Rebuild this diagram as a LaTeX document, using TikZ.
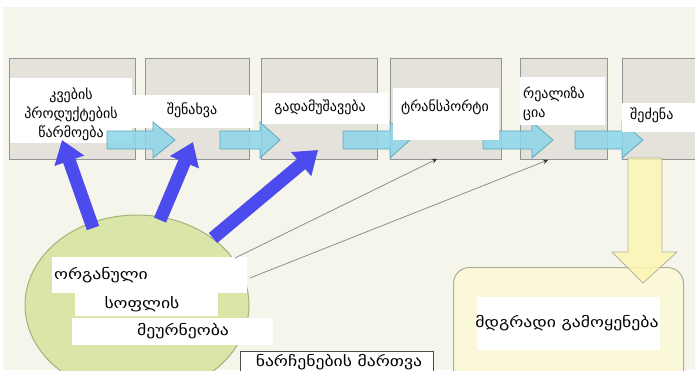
\documentclass[tikz,border=0pt]{standalone}
\usepackage{fontspec}
\setmainfont{DejaVu Sans}
\newfontfamily\widegeo[FakeStretch=1.22]{DejaVu Sans}
\usetikzlibrary{arrows.meta,shapes.geometric}
\definecolor{bg}{HTML}{F6F5EC}
\definecolor{boxfill}{HTML}{E5E2DB}
\definecolor{boxline}{HTML}{8F9596}
\definecolor{cyanfill}{HTML}{8CD6EB}
\definecolor{cyanline}{HTML}{5FA8BE}
\definecolor{blueA}{HTML}{4B4BEE}
\definecolor{ellfill}{HTML}{D9E6A8}
\definecolor{ellline}{HTML}{A3B27A}
\definecolor{yelfill}{HTML}{FBF6B2}
\definecolor{yelline}{HTML}{B5B29A}
\definecolor{recfill}{HTML}{FBF8DA}
\definecolor{recline}{HTML}{ADAB96}
\definecolor{thin}{HTML}{8E8E8E}
\tikzset{
  graybox/.style={draw=boxline, fill=boxfill, line width=1pt, inner sep=0pt, anchor=north west},
  patch/.style={fill=white},
  lbl/.style={font=\fontsize{14}{19}\selectfont, inner sep=0pt, text=black},
  widelbl/.style={font=\widegeo\fontsize{14.5}{19}\selectfont, inner sep=0pt, text=black},
  cyanarr/.style={fill=cyanfill, draw=cyanline, line width=0.8pt, fill opacity=0.85},
  bluearr/.style={draw=blueA, line width=13pt, -{Triangle[width=30pt,length=22pt]}},
  thinarr/.style={draw=thin, line width=0.8pt, -{Stealth[length=5pt,width=5pt,color=black!80]}},
}
\newcommand\cyarrow[3]{\filldraw[cyanarr] (#1,131)--(#2,131)--(#2,122)--(#3,140)--(#2,158)--(#2,149)--(#1,149)--cycle;}
\begin{document}
\begin{tikzpicture}[x=1pt,y=-1pt]
\useasboundingbox (0,0) rectangle (695,370);
\clip (0,0) rectangle (695,370);
\fill[bg] (0,0) rectangle (695,370);
\fill[white] (0,0) rectangle (695,7);
\fill[white] (0,0) rectangle (3,370);
% process boxes
\node[graybox, minimum width=126pt, minimum height=101pt] (b1) at (9,58) {};
\node[graybox, minimum width=104pt, minimum height=101pt] (b2) at (145,58) {};
\node[graybox, minimum width=116pt, minimum height=101pt] (b3) at (261,58) {};
\node[graybox, minimum width=111pt, minimum height=101pt] (b4) at (390,58) {};
\node[graybox, minimum width=87pt, minimum height=101pt] (b5) at (520,58) {};
\node[graybox, minimum width=100pt, minimum height=101pt] (b6) at (622,58) {};
% patches behind arrows
\fill[patch] (10,78) rectangle (132,143);
\fill[patch] (132,95) rectangle (253,128);
% cyan arrows
\cyarrow{107}{153}{175}
\cyarrow{220}{260}{280}
\cyarrow{343}{390}{410}
\cyarrow{483}{532}{553}
\cyarrow{575}{622}{643}
% patches in front
\fill[patch] (262,93) rectangle (388,124);
\fill[patch] (393,88) rectangle (499,140);
\fill[patch] (520,77) rectangle (605,125);
\fill[patch] (622,103) rectangle (695,132);
% labels
\node[lbl, align=center] (t1) at (71,114) {კვების\\პროდუქტების\\წარმოება};
\node[lbl] (t2) at (192,110) {შენახვა};
\node[lbl] (t3) at (320,107) {გადამუშავება};
\node[lbl] (t4) at (445,107) {ტრანსპორტი};
\node[lbl, align=left, anchor=west] (t5) at (523,104) {რეალიზა\\ცია};
\node[lbl, anchor=west] (t6) at (630,115) {შეძენა};
% sustainable use box and yellow arrow
\node[draw=recline, fill=recfill, line width=1pt, minimum width=230pt, minimum height=133pt, anchor=north west, rounded corners=16pt] (r) at (453,267) {};
\fill[patch] (477,297) rectangle (660,350);
\node[widelbl] (tr) at (567,323) {მდგრადი გამოყენება};
\filldraw[fill=yelfill, draw=yelline, line width=0.8pt, fill opacity=0.85]
  (628,158)--(662,158)--(662,252)--(677,252)--(643,283)--(612,252)--(628,252)--cycle;
% waste management box
\node[draw=black!70, fill=white, line width=0.8pt, minimum width=193pt, minimum height=34pt, anchor=north west, inner sep=0pt] (w) at (240,351) {};
\node[widelbl] (tw) at (339,362) {ნარჩენების მართვა};
% ellipse
\node[ellipse, draw=ellline, fill=ellfill, line width=1pt, minimum width=224pt, minimum height=180pt, inner sep=0pt] (e) at (137,305) {};
\fill[patch] (52,257) rectangle (247,293);
\fill[patch] (75,293) rectangle (218,316);
\fill[patch] (72,318) rectangle (273,345);
\node[widelbl, anchor=west] (te1) at (54,275) {ორგანული};
\node[widelbl] (te2) at (142,304) {სოფლის};
\node[widelbl] (te3) at (183,331) {მეურნეობა};
% blue arrows
\coordinate (as1) at (93,228);  \coordinate (at1) at (62,140);
\coordinate (as2) at (160,220); \coordinate (at2) at (193,142);
\coordinate (as3) at (213,238); \coordinate (at3) at (318,150);
\draw[bluearr] (as1) -- (at1);
\draw[bluearr] (as2) -- (at2);
\draw[bluearr] (as3) -- (at3);
% thin arrows
\coordinate (ts1) at (235,258); \coordinate (tt1) at (437,159);
\coordinate (ts2) at (250,278); \coordinate (tt2) at (548,160);
\draw[thinarr] (ts1) -- (tt1);
\draw[thinarr] (ts2) -- (tt2);
\end{tikzpicture}
\end{document}
